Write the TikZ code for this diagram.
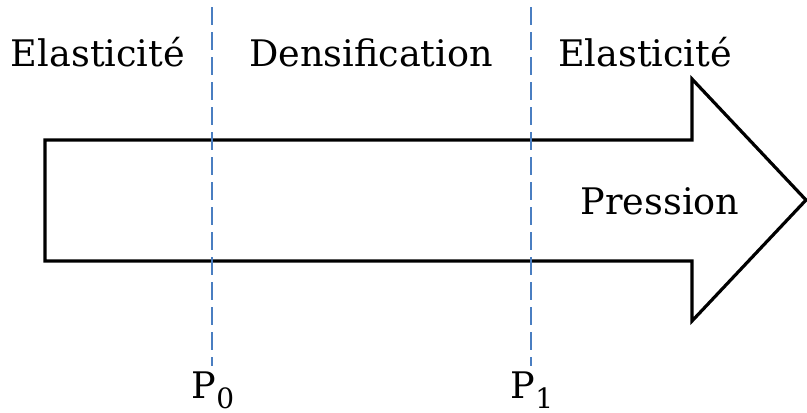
\documentclass[tikz,border=0pt]{standalone}
\usepackage{fontspec}
\setmainfont{DejaVu Serif}
\begin{document}
\begin{tikzpicture}[x=0.5pt,y=-0.5pt,
  lbl/.style={anchor=base,inner sep=0pt,font=\fontsize{18.3}{22}\selectfont},
  sep/.style={draw={rgb,255:red,74;green,126;blue,193},line width=1.25pt,dash pattern=on 9pt off 3.5pt},
  arrowshape/.style={draw=black,line width=1.6pt,line join=miter}]
\useasboundingbox (0,0) rectangle (807,412);
\draw[arrowshape] (45,140) -- (692,140) -- (692,79) -- (806,200) -- (692,321) -- (692,261) -- (45,261) -- cycle;
\coordinate (a0) at (212,7);
\coordinate (b0) at (212,366);
\coordinate (a1) at (531,7);
\coordinate (b1) at (531,366);
\draw[sep] (a0) -- (b0);
\draw[sep] (a1) -- (b1);
\node[lbl] (e1) at (98,66) {Elasticité};
\node[lbl] (d) at (371,66) {Densification};
\node[lbl] (e2) at (645,66) {Elasticité};
\node[lbl] (p) at (660,214) {Pression};
\node[lbl] (p0) at (213,398) {P\raisebox{-0.28em}{\fontsize{14}{16}\selectfont 0}};
\node[lbl] (p1) at (532,398) {P\raisebox{-0.28em}{\fontsize{14}{16}\selectfont 1}};
\end{tikzpicture}
\end{document}
